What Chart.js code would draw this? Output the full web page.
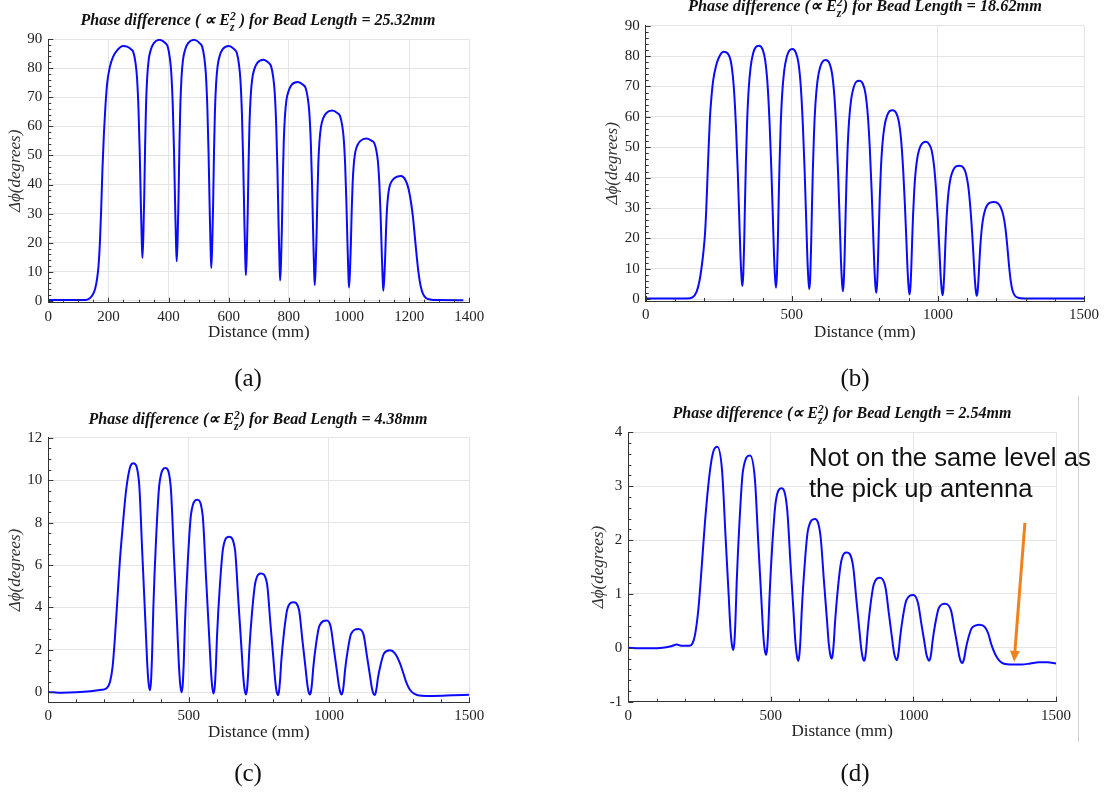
<!DOCTYPE html>
<html><head><meta charset="utf-8">
<script src="https://cdn.jsdelivr.net/npm/chart.js@4.4.1/dist/chart.umd.min.js"></script>
<style>
html,body{margin:0;padding:0;background:#fff;}
body{width:1105px;height:795px;position:relative;overflow:hidden;font-family:"Liberation Serif","Times New Roman",serif;}
canvas{position:absolute;}
.ttl{position:absolute;transform:translateX(-50%);white-space:nowrap;font-weight:bold;font-style:italic;font-size:16px;line-height:18px;color:#111;}
.stk{display:inline-block;vertical-align:-0.5em;font-size:0.72em;line-height:0.95em;text-align:left;}
.stk span{display:block;}
.cap{position:absolute;transform:translateX(-50%);font-size:25px;line-height:28px;color:#111;}
.note{position:absolute;font-family:"Liberation Sans",Arial,sans-serif;font-size:25.6px;line-height:31px;color:#111;white-space:nowrap;}
.vline{position:absolute;left:1078px;top:396px;width:1px;height:346px;background:#d0d0d0;}
</style></head><body>
<div class="vline"></div>
<canvas id="cA" width="540" height="395" style="left:0px;top:0px"></canvas>
<canvas id="cB" width="553" height="395" style="left:552px;top:0px"></canvas>
<canvas id="cC" width="540" height="400" style="left:0px;top:395px"></canvas>
<canvas id="cD" width="553" height="400" style="left:552px;top:395px"></canvas>

<div class="ttl" style="left:258px;top:11px">Phase difference ( &#8733; E<span class="stk"><span>2</span><span>z</span></span> ) for Bead Length = 25.32mm</div>
<div class="ttl" style="left:865px;top:-3px;font-size:16.3px">Phase difference (&#8733; E<span class="stk"><span>2</span><span>z</span></span>) for Bead Length = 18.62mm</div>
<div class="ttl" style="left:258px;top:410px">Phase difference (&#8733; E<span class="stk"><span>2</span><span>z</span></span>) for Bead Length = 4.38mm</div>
<div class="ttl" style="left:842px;top:404px">Phase difference (&#8733; E<span class="stk"><span>2</span><span>z</span></span>) for Bead Length = 2.54mm</div>

<div class="cap" style="left:248px;top:364px">(a)</div>
<div class="cap" style="left:855px;top:364px">(b)</div>
<div class="cap" style="left:248px;top:759px">(c)</div>
<div class="cap" style="left:855px;top:759px">(d)</div>

<div class="note" style="left:809px;top:442px">Not on the same level as<br>the pick up antenna</div>

<script>
// ---------- data ----------
const distA = [0, 60, 100, 125, 138, 148, 156, 162, 167, 172, 176, 180, 185, 190, 196, 205, 215, 228, 249, 262, 275, 283, 290, 295, 300, 304, 308, 311, 313,
  316, 319, 322, 325, 329, 334, 341, 351, 369, 389, 397, 404, 409, 414, 418, 422, 425, 427,
  430, 433, 436, 439, 443, 448, 455, 465, 485, 504, 512, 519, 524, 529, 533, 537, 540, 542,
  545, 548, 551, 554, 558, 563, 570, 580, 600, 619, 627, 634, 639, 644, 648, 652, 655, 657,
  660, 663, 666, 669, 673, 678, 685, 695, 715, 733, 741, 748, 753, 758, 762, 766, 769, 771,
  774, 777, 780, 783, 787, 792, 799, 809, 829, 848, 856, 863, 868, 873, 877, 881, 884, 886,
  889, 892, 895, 898, 902, 907, 914, 924, 944, 962, 970, 977, 982, 987, 991, 995, 998, 1000,
  1003, 1006, 1009, 1012, 1016, 1021, 1028, 1038, 1058, 1076, 1084, 1091, 1096, 1101, 1105, 1109, 1112, 1114,
  1117, 1120, 1123, 1126, 1130, 1135, 1142, 1152, 1173, 1188, 1198, 1206, 1213, 1219, 1225, 1231, 1238, 1246, 1256, 1270, 1292, 1380];
const phaseA = [0.3, 0.3, 0.3, 0.35, 0.9, 2.2, 4.3, 7.5, 12, 21, 32, 45, 57.6, 67, 75, 80.5, 83.8, 86, 87.6, 87.4, 86.5, 85.4, 81.8, 76.7, 65.8, 51.2, 32.3, 19.9, 14.8,
  22.3, 35.8, 53.7, 67.2, 77.0, 83.0, 86.3, 88.6, 89.7, 88.6, 87.4, 83.6, 78.3, 66.9, 51.7, 31.9, 18.9, 13.6,
  21.2, 34.9, 53.2, 66.9, 76.8, 82.9, 86.3, 88.6, 89.7, 88.5, 87.3, 83.4, 77.9, 66.2, 50.5, 30.1, 16.8, 11.3,
  18.9, 32.7, 51.0, 64.7, 74.6, 80.7, 84.2, 86.5, 87.6, 86.4, 85.2, 81.3, 75.8, 64.0, 48.2, 27.7, 14.3, 8.8,
  16.2, 29.5, 47.3, 60.7, 70.3, 76.2, 79.6, 81.8, 82.9, 81.8, 80.6, 76.8, 71.5, 60.1, 45.0, 25.2, 12.3, 7.0,
  13.8, 26.1, 42.5, 54.7, 63.6, 69.1, 72.1, 74.2, 75.2, 74.2, 73.1, 69.6, 64.7, 54.3, 40.3, 22.2, 10.3, 5.4,
  11.4, 22.2, 36.6, 47.4, 55.2, 60.0, 62.7, 64.5, 65.4, 64.5, 63.6, 60.5, 56.3, 47.2, 35.0, 19.2, 8.9, 4.6,
  9.7, 18.9, 31.2, 40.4, 47.1, 51.2, 53.5, 55.0, 55.8, 55.0, 54.2, 51.6, 48.0, 40.1, 29.7, 16.1, 7.2, 3.5,
  7.4, 14.5, 24.0, 31.1, 36.2, 39.4, 41.1, 42.3, 42.9, 41.5, 38.5, 34.0, 28.5, 22, 15.5, 9.8, 5.2, 2.4, 1.0, 0.5, 0.3, 0.25];

const distB = [0, 140, 160, 174, 184, 192, 198, 203, 207, 211, 215, 220, 225, 231, 240, 249, 266, 285, 294, 302, 309, 315, 320, 324, 328, 331,
  334, 337, 340, 343, 347, 352, 359, 368, 377, 388, 400, 409, 417, 424, 430, 435, 439, 443, 446,
  449, 452, 455, 458, 462, 467, 474, 483, 492, 502, 514, 523, 531, 538, 544, 549, 553, 557, 560,
  563, 566, 569, 572, 576, 581, 588, 597, 606, 616, 629, 638, 646, 653, 659, 664, 668, 672, 675,
  678, 681, 684, 687, 691, 696, 703, 712, 721, 731, 743, 752, 760, 767, 773, 778, 782, 786, 789,
  792, 795, 798, 801, 805, 810, 817, 826, 835, 845, 857, 866, 874, 881, 887, 892, 896, 900, 903,
  906, 909, 912, 915, 919, 924, 931, 940, 949, 959, 970, 979, 987, 994, 1000, 1005, 1009, 1013, 1016,
  1019, 1022, 1025, 1028, 1032, 1037, 1044, 1053, 1062, 1073, 1087, 1096, 1104, 1111, 1117, 1122, 1126, 1130, 1133,
  1136, 1139, 1142, 1145, 1149, 1154, 1161, 1170, 1179, 1190, 1205, 1215, 1224, 1231, 1237, 1243, 1249, 1255, 1263, 1275, 1295, 1500];
const phaseB = [0.2, 0.2, 0.6, 2.4, 6, 11, 16, 21.6, 29, 39, 49, 60, 66.5, 72, 76.5, 79.2, 81.4, 80.2, 76.8, 69.1, 56.7, 42.1, 27.4, 15.1, 7.0, 4.3,
  8.3, 18.5, 32.8, 45.4, 58.1, 68.4, 76.3, 81.0, 83.0, 83.4, 82.2, 78.6, 70.7, 57.9, 42.8, 27.7, 14.9, 6.6, 3.8,
  7.7, 17.9, 32.1, 44.6, 57.2, 67.4, 75.2, 79.9, 81.9, 82.3, 81.1, 77.6, 69.7, 57.0, 42.0, 27.0, 14.4, 6.1, 3.3,
  7.1, 16.9, 30.4, 42.5, 54.6, 64.4, 71.9, 76.4, 78.3, 78.7, 77.6, 74.1, 66.5, 54.3, 39.9, 25.4, 13.3, 5.3, 2.6,
  6.1, 15.1, 27.5, 38.6, 49.7, 58.7, 65.7, 69.8, 71.6, 71.9, 70.9, 67.7, 60.7, 49.6, 36.3, 23.0, 11.9, 4.5, 2.1,
  5.1, 12.9, 23.7, 33.4, 43.0, 50.8, 56.8, 60.4, 61.9, 62.2, 61.3, 58.6, 52.5, 42.8, 31.2, 19.7, 10.0, 3.6, 1.5,
  4.0, 10.6, 19.6, 27.7, 35.7, 42.2, 47.3, 50.3, 51.5, 51.8, 51.0, 48.8, 43.7, 35.6, 26.0, 16.5, 8.4, 3.1, 1.3,
  3.4, 9.0, 16.6, 23.5, 30.3, 35.8, 40.1, 42.6, 43.7, 43.9, 43.3, 41.3, 37.1, 30.2, 22.1, 13.9, 7.1, 2.6, 1.1,
  2.6, 6.7, 12.2, 17.2, 22.1, 26.1, 29.2, 31.1, 31.8, 32.0, 31.6, 30.2, 27.5, 23.5, 18, 11.5, 6.2, 3.0, 1.2, 0.45, 0.22, 0.2];

const distC = [0, 50, 100, 150, 190, 208, 220, 229, 237, 246, 255, 265, 277, 291, 303, 323, 335, 346, 352, 357, 362,
  366, 370, 374, 384, 396, 418, 436, 448, 459, 465, 470, 475,
  479, 483, 487, 497, 509, 531, 550, 562, 573, 579, 584, 589,
  593, 597, 601, 611, 623, 644, 665, 677, 688, 694, 699, 704,
  708, 712, 716, 726, 738, 758, 779, 791, 802, 808, 813, 818,
  822, 826, 830, 840, 852, 873, 893, 905, 916, 922, 927, 932,
  936, 940, 944, 954, 966, 992, 1006, 1018, 1029, 1035, 1040, 1045,
  1049, 1053, 1057, 1067, 1079, 1105, 1123, 1135, 1146, 1152, 1157, 1162,
  1166, 1170, 1174, 1184, 1196, 1217, 1235, 1253, 1265, 1277, 1289, 1306, 1330, 1372, 1440, 1500];
const phaseC = [0.02, -0.02, 0.0, 0.05, 0.12, 0.19, 0.5, 1.2, 2.5, 4.35, 6.2, 7.8, 9.5, 10.6, 10.8, 9.94, 6.52, 3.31, 1.49, 0.47, 0.1,
  0.52, 1.88, 3.87, 7.22, 9.84, 10.57, 9.72, 6.34, 3.17, 1.37, 0.37, 0.0,
  0.36, 1.54, 3.27, 6.17, 8.44, 9.07, 8.34, 5.42, 2.69, 1.14, 0.27, -0.05,
  0.25, 1.20, 2.61, 4.97, 6.81, 7.33, 6.74, 4.36, 2.13, 0.87, 0.16, -0.1,
  0.13, 0.87, 1.95, 3.78, 5.20, 5.6, 5.14, 3.31, 1.59, 0.61, 0.07, -0.13,
  0.05, 0.61, 1.45, 2.85, 3.94, 4.25, 3.90, 2.51, 1.21, 0.47, 0.05, -0.1,
  0.04, 0.49, 1.15, 2.27, 3.14, 3.38, 3.10, 1.99, 0.94, 0.35, 0.02, -0.1,
  0.02, 0.42, 1.01, 1.99, 2.76, 2.98, 2.73, 1.74, 0.80, 0.27, -0.02, -0.13,
  -0.05, 0.23, 0.63, 1.30, 1.83, 1.98, 1.84, 1.37, 0.9, 0.42, 0.11, -0.08, -0.16, -0.17, -0.14, -0.11];

const distD = [0, 40, 80, 120, 150, 170, 185, 215, 225, 234, 246, 257, 269, 286, 298, 312, 329, 341, 352, 358, 363, 368,
  372, 376, 380, 390, 402, 427, 444, 456, 467, 473, 478, 483,
  487, 491, 495, 505, 517, 538, 557, 569, 580, 586, 591, 596,
  600, 604, 608, 618, 630, 655, 674, 686, 697, 703, 708, 713,
  717, 721, 725, 735, 747, 766, 788, 800, 811, 817, 822, 827,
  831, 835, 839, 849, 861, 883, 902, 914, 925, 931, 936, 941,
  945, 949, 953, 963, 975, 1000, 1016, 1028, 1039, 1045, 1050, 1055,
  1059, 1063, 1067, 1077, 1089, 1111, 1132, 1144, 1155, 1161, 1166, 1171,
  1175, 1179, 1183, 1193, 1205, 1233, 1250, 1262, 1274, 1292, 1315, 1350, 1380, 1410, 1440, 1470, 1500];
const phaseD = [0.0, -0.01, -0.01, 0.0, 0.03, 0.06, 0.04, 0.04, 0.08, 0.24, 0.73, 1.47, 2.34, 3.27, 3.64, 3.73, 3.28, 2.07, 0.98, 0.37, 0.07, -0.04,
  0.10, 0.54, 1.19, 2.34, 3.28, 3.57, 3.13, 1.94, 0.87, 0.28, -0.02, -0.13,
  -0.01, 0.36, 0.92, 1.91, 2.71, 2.96, 2.58, 1.55, 0.62, 0.11, -0.14, -0.24,
  -0.13, 0.18, 0.65, 1.50, 2.18, 2.39, 2.08, 1.25, 0.50, 0.08, -0.12, -0.2,
  -0.12, 0.12, 0.47, 1.10, 1.61, 1.77, 1.53, 0.89, 0.30, -0.02, -0.18, -0.24,
  -0.18, 0.01, 0.28, 0.78, 1.18, 1.30, 1.12, 0.63, 0.18, -0.06, -0.18, -0.23,
  -0.18, -0.04, 0.18, 0.57, 0.88, 0.98, 0.83, 0.44, 0.09, -0.11, -0.20, -0.24,
  -0.20, -0.07, 0.12, 0.46, 0.74, 0.82, 0.69, 0.34, 0.02, -0.16, -0.25, -0.28,
  -0.25, -0.17, -0.04, 0.19, 0.37, 0.43, 0.39, 0.27, 0.05, -0.17, -0.29, -0.31, -0.31, -0.29, -0.27, -0.27, -0.29];

// arrow annotation in chart (d), data coordinates [distance, phase]
const arrowFrom = [1391, 2.32];
const arrowTo = [1353, -0.26];

const xTitle = 'Distance (mm)';
const yTitle = 'Δϕ(degrees)';

// ---------- helpers ----------
const SERIF = '"Liberation Serif","Times New Roman",serif';

function isMult(v, step) { return Math.abs(v / step - Math.round(v / step)) < 1e-6; }
function stepTicks(a, step) {
  const out = [];
  for (let k = Math.ceil(a.min / step - 1e-6); k * step <= a.max + 1e-6; k++) {
    out.push({ value: Math.round(k * step * 1e6) / 1e6 });
  }
  a.ticks = out;
}

const inTicks = {
  id: 'inTicks',
  afterDraw(chart, args, o) {
    if (!o || !o.xMinor) return;
    const { ctx, chartArea: ca, scales: { x, y } } = chart;
    ctx.save();
    ctx.strokeStyle = '#333';
    ctx.lineWidth = 1;
    ctx.beginPath();
    for (let k = Math.ceil(x.min / o.xMinor - 1e-6); k * o.xMinor <= x.max + 1e-6; k++) {
      const v = k * o.xMinor;
      const px = Math.round(x.getPixelForValue(v)) + 0.5;
      const len = isMult(v, o.xMajor) ? 5 : 3;
      ctx.moveTo(px, ca.bottom); ctx.lineTo(px, ca.bottom - len);
    }
    for (let k = Math.ceil(y.min / o.yMinor - 1e-6); k * o.yMinor <= y.max + 1e-6; k++) {
      const v = k * o.yMinor;
      const py = Math.round(y.getPixelForValue(v)) + 0.5;
      const len = isMult(v, o.yMajor) ? 5 : 3;
      ctx.moveTo(ca.left, py); ctx.lineTo(ca.left + len, py);
    }
    ctx.stroke();
    ctx.restore();
  }
};

const arrowPlug = {
  id: 'arrowPlug',
  afterDraw(chart, args, o) {
    if (!o || !o.from) return;
    const { ctx, scales: { x, y } } = chart;
    const x1 = x.getPixelForValue(o.from[0]), y1 = y.getPixelForValue(o.from[1]);
    const x2 = x.getPixelForValue(o.to[0]), y2 = y.getPixelForValue(o.to[1]);
    const ang = Math.atan2(y2 - y1, x2 - x1);
    const hl = 11, hw = 5;
    const bx = x2 - hl * Math.cos(ang), by = y2 - hl * Math.sin(ang);
    ctx.save();
    ctx.strokeStyle = o.color; ctx.fillStyle = o.color;
    ctx.lineWidth = 3; ctx.lineCap = 'butt';
    ctx.beginPath(); ctx.moveTo(x1, y1); ctx.lineTo(bx, by); ctx.stroke();
    ctx.beginPath();
    ctx.moveTo(x2, y2);
    ctx.lineTo(bx + hw * Math.sin(ang), by - hw * Math.cos(ang));
    ctx.lineTo(bx - hw * Math.sin(ang), by + hw * Math.cos(ang));
    ctx.closePath(); ctx.fill();
    ctx.restore();
  }
};

function makeChart(id, xs, ys, cfg) {
  const pts = xs.map((v, i) => ({ x: v, y: ys[i] }));
  return new Chart(document.getElementById(id), {
    type: 'line',
    data: { datasets: [{ data: pts, borderColor: '#0a0aff', borderWidth: 2, pointRadius: 0,
      cubicInterpolationMode: 'monotone', fill: false }] },
    plugins: [inTicks, arrowPlug],
    options: {
      responsive: false, animation: false, devicePixelRatio: 1,
      layout: { padding: cfg.pad },
      plugins: { legend: { display: false }, tooltip: { enabled: false },
        inTicks: cfg.ticks, arrowPlug: cfg.arrow || {} },
      scales: {
        x: {
          type: 'linear', min: cfg.xMin, max: cfg.xMax,
          afterBuildTicks: a => stepTicks(a, cfg.ticks.xMajor),
          afterFit: a => { a.height = cfg.hx; },
          ticks: { autoSkip: false, maxRotation: 0, padding: 5, callback: v => String(v),
            color: '#222', font: { family: SERIF, size: 15 } },
          grid: { color: '#e4e4e4', drawTicks: false },
          border: { color: '#333', width: 1 },
          title: { display: true, text: xTitle, color: '#222', padding: 0, font: { family: SERIF, size: 17 } }
        },
        y: {
          type: 'linear', min: cfg.yMin, max: cfg.yMax,
          afterBuildTicks: a => stepTicks(a, cfg.ticks.yMajor),
          afterFit: a => { a.width = cfg.wy; },
          ticks: { autoSkip: false, padding: 6, callback: v => String(v),
            color: '#222', font: { family: SERIF, size: 15 } },
          grid: { color: '#e4e4e4', drawTicks: false },
          border: { color: '#333', width: 1 },
          title: { display: true, text: yTitle, color: '#333', padding: 0, font: { family: SERIF, size: 17, style: 'italic' } }
        }
      }
    }
  });
}

makeChart('cA', distA, phaseA, {
  xMin: 0, xMax: 1400, yMin: -0.6, yMax: 90,
  pad: { left: 5.8, right: 70.7, top: 39, bottom: 52.3 }, wy: 42.5, hx: 40,
  ticks: { xMajor: 200, xMinor: 50, yMajor: 10, yMinor: 2 }
});
makeChart('cB', distB, phaseB, {
  xMin: 0, xMax: 1500, yMin: -0.6, yMax: 90,
  pad: { left: 50.8, right: 21, top: 25.7, bottom: 52.5 }, wy: 42.9, hx: 41.5,
  ticks: { xMajor: 500, xMinor: 100, yMajor: 10, yMinor: 2 }
});
makeChart('cC', distC, phaseC, {
  xMin: 0, xMax: 1500, yMin: -0.47, yMax: 12,
  pad: { left: 5.8, right: 70.7, top: 42.7, bottom: 52.5 }, wy: 42.5, hx: 40.2,
  ticks: { xMajor: 500, xMinor: 100, yMajor: 2, yMinor: 0.5 }
});
makeChart('cD', distD, phaseD, {
  xMin: 0, xMax: 1500, yMin: -1, yMax: 4,
  pad: { left: 36.8, right: 49, top: 37.3, bottom: 53.3 }, wy: 39.5, hx: 40,
  ticks: { xMajor: 500, xMinor: 100, yMajor: 1, yMinor: 0.2 },
  arrow: { from: arrowFrom, to: arrowTo, color: '#f0821e' }
});
</script>
</body></html>
